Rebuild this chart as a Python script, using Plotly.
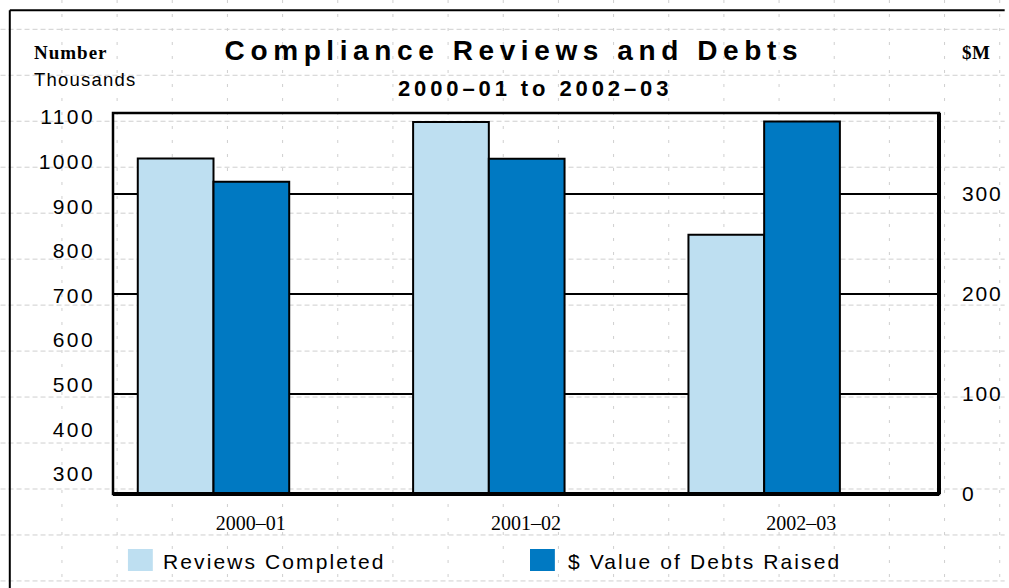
import json
import plotly.graph_objects as go

# ---- data -------------------------------------------------------------
categories = ["2000–01", "2001–02", "2002–03"]
reviews_completed = [1007, 1089, 836]      # number, thousands (left axis)
debts_raised = [312, 335, 372]             # $M (right axis)
left_ticks = [300, 400, 500, 600, 700, 800, 900, 1000, 1100]
right_ticks = [0, 100, 200, 300]

series_names = ["Reviews Completed", "$ Value of Debts Raised"]

# ---- page geometry -----------------------------------------------------
W, H = 1009, 588
ML, MR, MT, MB = 113, 66, 113, 94
PW = W - ML - MR
PH = H - MT - MB


def px(x):
    """pixel column -> paper x"""
    return (x - ML) / PW


def py(y):
    """pixel row -> paper y"""
    return (H - MB - y) / PH


LIGHT = "#BEDFF1"
DARK = "#0079C2"
SANS = "Liberation Sans, Arial, sans-serif"
SERIF = "Liberation Serif, Times New Roman, serif"

xpos = list(range(len(categories)))

fig = go.Figure()
fig.add_trace(go.Bar(
    x=xpos, y=reviews_completed, yaxis="y", name=series_names[0],
    width=0.275, offset=-0.41,
    marker=dict(color=LIGHT, line=dict(color="black", width=2)),
    showlegend=False,
))
fig.add_trace(go.Bar(
    x=xpos, y=debts_raised, yaxis="y2", name=series_names[1],
    width=0.275, offset=-0.135,
    marker=dict(color=DARK, line=dict(color="black", width=2)),
    showlegend=False,
))

shapes = []

# graph-paper background: dashed rows, dotted columns
for k in range(13):
    yy = 29.3 + 45.97 * k
    shapes.append(dict(type="line", xref="paper", yref="paper",
                       x0=px(0), x1=px(W), y0=py(yy), y1=py(yy),
                       line=dict(color="#cfcfcf", width=1, dash="5px,3px"),
                       layer="below"))
for k in range(18):
    xx = 61.7 + 55.43 * k
    shapes.append(dict(type="line", xref="paper", yref="paper",
                       x0=px(xx), x1=px(xx), y0=py(0), y1=py(H),
                       line=dict(color="#cfcfcf", width=1, dash="3px,11px"),
                       layer="below"))

# outer page border (top and left)
shapes.append(dict(type="line", xref="paper", yref="paper",
                   x0=px(9.3), x1=px(W), y0=py(10.3), y1=py(10.3),
                   line=dict(color="black", width=2)))
shapes.append(dict(type="line", xref="paper", yref="paper",
                   x0=px(9.3), x1=px(9.3), y0=py(10.3), y1=py(H),
                   line=dict(color="black", width=2)))

# plot frame with heavier right/bottom edges
shapes.append(dict(type="rect", xref="paper", yref="paper",
                   x0=0, x1=1, y0=0, y1=1,
                   line=dict(color="black", width=2.5), layer="above"))
shapes.append(dict(type="line", xref="paper", yref="paper",
                   x0=0, x1=1, y0=0, y1=0,
                   line=dict(color="black", width=4), layer="above"))
shapes.append(dict(type="line", xref="paper", yref="paper",
                   x0=1, x1=1, y0=0, y1=1,
                   line=dict(color="black", width=4), layer="above"))

# legend swatches
legend_items = [
    (series_names[0], LIGHT, 128, 162.6),
    (series_names[1], DARK, 532, 569.6),
]
for _, col, sx, _ in legend_items:
    shapes.append(dict(type="rect", xref="paper", yref="paper",
                       x0=px(sx), x1=px(sx + 25), y0=py(571), y1=py(549),
                       fillcolor=col, line=dict(width=0)))

annotations = [
    dict(text="<b>Compliance Reviews and Debts</b>", x=px(516), y=py(51),
         xanchor="center", yanchor="middle",
         font=dict(family=SANS, size=28, color="black")),
    dict(text="<b>2000–01 to 2002–03</b>", x=px(537.5), y=py(88),
         xanchor="center", yanchor="middle",
         font=dict(family=SANS, size=22, color="black")),
    dict(text="<b>Number</b>", x=px(32.3), y=py(52.2),
         xanchor="left", yanchor="middle", align="left",
         font=dict(family=SERIF, size=19, color="black")),
    dict(text="Thousands", x=px(32.3), y=py(79.3),
         xanchor="left", yanchor="middle", align="left",
         font=dict(family=SANS, size=18.5, color="black")),
    dict(text="<b>$M</b>", x=px(965), y=py(52.5),
         xanchor="left", yanchor="middle", align="left",
         font=dict(family=SERIF, size=19, color="black")),
]
for name, _, _, tx in legend_items:
    annotations.append(dict(text=name, x=px(tx), y=py(561.7),
                            xanchor="left", yanchor="middle", align="left",
                            font=dict(family=SANS, size=21, color="black")))
for a in annotations:
    a.update(xref="paper", yref="paper", showarrow=False,
             borderpad=0, xshift=0, yshift=0)

fig.update_layout(
    width=W, height=H,
    margin=dict(l=ML, r=MR, t=MT, b=MB, pad=0),
    paper_bgcolor="white", plot_bgcolor="rgba(0,0,0,0)",
    barmode="overlay",
    showlegend=False,
    shapes=shapes,
    annotations=annotations,
    xaxis=dict(range=[-0.5, 2.5], tickmode="array", tickvals=xpos,
               ticktext=categories, showgrid=False, zeroline=False,
               showline=False, ticks="", ticklabelstandoff=15,
               tickfont=dict(family=SERIF, size=20, color="black")),
    yaxis=dict(range=[255.2, 1109], tickmode="array", tickvals=left_ticks,
               showgrid=False, zeroline=False, showline=False, ticks="",
               ticklabelstandoff=17,
               tickfont=dict(family=SANS, size=21, color="black")),
    yaxis2=dict(range=[0, 380.6], overlaying="y", side="right",
                tickmode="array", tickvals=right_ticks,
                showgrid=True, gridcolor="black", gridwidth=2,
                zeroline=False, showline=False, ticks="",
                ticklabelstandoff=22,
                tickfont=dict(family=SANS, size=21, color="black")),
)

# tracking (letter spacing) for the wide-set lettering
spacing = {
    "Compliance Reviews and Debts": 5.6,
    "2000–01 to 2002–03": 3.9,
    "Number": 1.0,
    "Thousands": 1.2,
    "$M": 0.5,
    "Reviews Completed": 2.1,
    "$ Value of Debts Raised": 2.1,
}
post = """
var gd = document.getElementById('{plot_id}');
var sp = %s;
gd.querySelectorAll('text').forEach(function(t) {
  var s = sp[t.textContent];
  if (s !== undefined) { t.style.letterSpacing = s + 'px'; }
});
gd.querySelectorAll('g.ytick text').forEach(function(t) {
  t.style.letterSpacing = '2.4px';
});
gd.querySelectorAll('g.y2tick text').forEach(function(t) {
  t.style.letterSpacing = '1.8px';
});
""" % json.dumps(spacing, ensure_ascii=False)

fig.write_html("out.html", post_script=post)
